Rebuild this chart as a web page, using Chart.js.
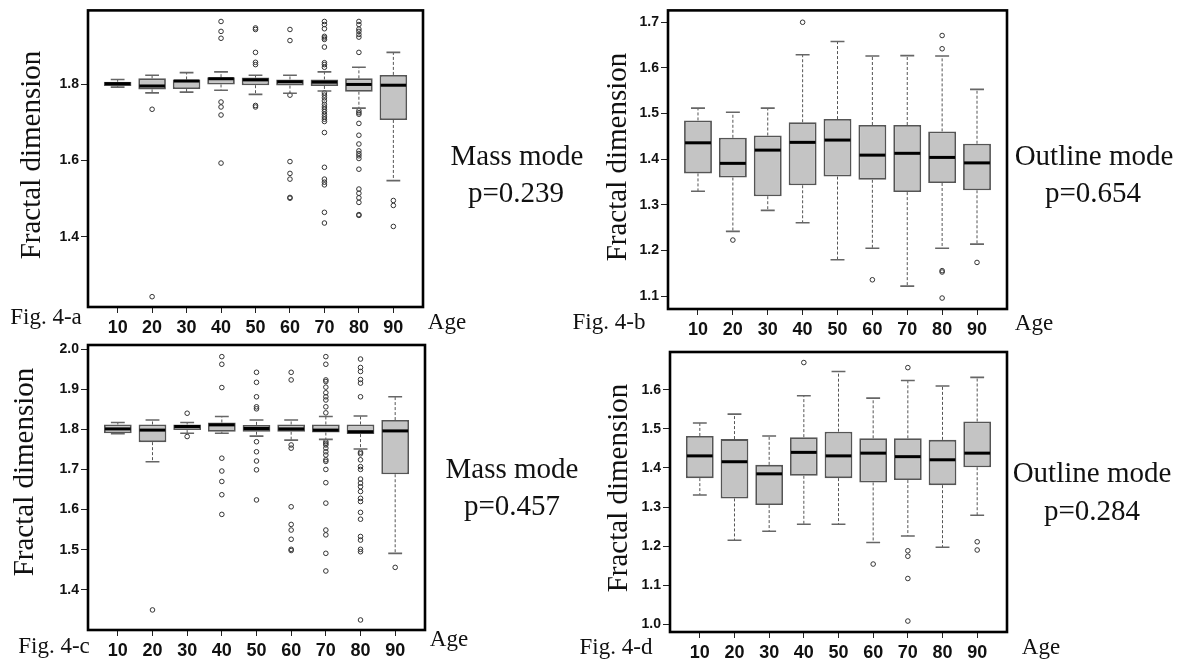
<!DOCTYPE html>
<html>
<head>
<meta charset="utf-8">
<script src="https://cdn.jsdelivr.net/npm/chart.js@4"></script>
<style>
  body { margin: 0; background: #fff; }
  #page { position: relative; width: 1182px; height: 662px; overflow: hidden; }
  canvas { position: absolute; left: 0; top: 0; }
  .t {
    position: absolute; font-family: 'Liberation Serif', 'Times New Roman', serif;
    color: #111; white-space: nowrap; line-height: 1; transform: translate(-50%, -50%);
  }
  .r { transform: translate(-50%, -50%) rotate(-90deg); }
</style>
</head>
<body>
<div id="page">
  <canvas id="figA" width="1182" height="662"></canvas>
  <canvas id="figB" width="1182" height="662"></canvas>
  <canvas id="figC" width="1182" height="662"></canvas>
  <canvas id="figD" width="1182" height="662"></canvas>

  <div class="t r" style="left:30px;top:155px;font-size:29px">Fractal dimension</div>
  <div class="t r" style="left:616px;top:157px;font-size:29px">Fractal dimension</div>
  <div class="t r" style="left:23px;top:472px;font-size:29px">Fractal dimension</div>
  <div class="t r" style="left:617px;top:488px;font-size:29px">Fractal dimension</div>

  <div class="t" style="left:46px;top:316px;font-size:23px">Fig. 4-a</div>
  <div class="t" style="left:609px;top:321px;font-size:23px">Fig. 4-b</div>
  <div class="t" style="left:54px;top:645px;font-size:23px">Fig. 4-c</div>
  <div class="t" style="left:616px;top:646px;font-size:23px">Fig. 4-d</div>

  <div class="t" style="left:447px;top:321px;font-size:23px">Age</div>
  <div class="t" style="left:1034px;top:322px;font-size:23px">Age</div>
  <div class="t" style="left:449px;top:638px;font-size:23px">Age</div>
  <div class="t" style="left:1041px;top:646px;font-size:23px">Age</div>

  <div class="t" style="left:517px;top:155px;font-size:29px">Mass mode</div>
  <div class="t" style="left:516px;top:192px;font-size:29px">p=0.239</div>
  <div class="t" style="left:1094px;top:155px;font-size:29px">Outline mode</div>
  <div class="t" style="left:1093px;top:192px;font-size:29px">p=0.654</div>
  <div class="t" style="left:512px;top:468px;font-size:29px">Mass mode</div>
  <div class="t" style="left:512px;top:505px;font-size:29px">p=0.457</div>
  <div class="t" style="left:1092px;top:472px;font-size:29px">Outline mode</div>
  <div class="t" style="left:1092px;top:510px;font-size:29px">p=0.284</div>
</div>
<script>
const ages = ['10', '20', '30', '40', '50', '60', '70', '80', '90']

// Fig. 4-a  mass mode
const aLow  = [1.792, 1.777, 1.779, 1.784, 1.773, 1.776, 1.782, 1.737, 1.547]
const aQ1   = [1.795, 1.786, 1.787, 1.799, 1.797, 1.796, 1.795, 1.780, 1.706]
const aMed  = [1.801, 1.795, 1.808, 1.814, 1.811, 1.806, 1.805, 1.799, 1.797]
const aQ3   = [1.806, 1.815, 1.812, 1.818, 1.817, 1.812, 1.812, 1.815, 1.824]
const aHigh = [1.812, 1.823, 1.830, 1.832, 1.823, 1.823, 1.832, 1.844, 1.883]
const aOut = [
  [],
  [1.734, 1.243],
  [],
  [1.964, 1.938, 1.920, 1.753, 1.740, 1.719, 1.593],
  [1.947, 1.943, 1.883, 1.857, 1.851, 1.744, 1.740],
  [1.943, 1.914, 1.771, 1.597, 1.566, 1.551, 1.503, 1.501],
  [1.964, 1.956, 1.945, 1.925, 1.921, 1.917, 1.897, 1.856, 1.851, 1.844, 1.777, 1.771,
   1.764, 1.756, 1.747, 1.740, 1.734, 1.728, 1.721, 1.714, 1.708, 1.702, 1.673, 1.582,
   1.551, 1.543, 1.536, 1.464, 1.436],
  [1.964, 1.956, 1.944, 1.938, 1.930, 1.923, 1.883, 1.730, 1.725, 1.721, 1.697, 1.666,
   1.643, 1.625, 1.618, 1.612, 1.605, 1.577, 1.525, 1.514, 1.502, 1.490, 1.458, 1.456],
  [1.495, 1.482, 1.427]
]

// Fig. 4-b  outline mode
const bLow  = [1.330, 1.242, 1.288, 1.261, 1.180, 1.205, 1.122, 1.205, 1.214]
const bQ1   = [1.369, 1.360, 1.319, 1.343, 1.362, 1.355, 1.328, 1.348, 1.332]
const bMed  = [1.436, 1.391, 1.420, 1.437, 1.442, 1.409, 1.413, 1.404, 1.392]
const bQ3   = [1.485, 1.447, 1.452, 1.481, 1.488, 1.475, 1.475, 1.461, 1.434]
const bHigh = [1.512, 1.503, 1.512, 1.629, 1.658, 1.626, 1.627, 1.626, 1.553]
const bOut = [[], [1.223], [], [1.700], [], [1.136], [], [1.671, 1.642, 1.156, 1.153, 1.096], [1.174]]

// Fig. 4-c  mass mode
const cLow  = [1.789, 1.719, 1.790, 1.790, 1.783, 1.773, 1.775, 1.751, 1.491]
const cQ1   = [1.790, 1.768, 1.798, 1.794, 1.794, 1.794, 1.792, 1.788, 1.688]
const cMed  = [1.801, 1.798, 1.807, 1.811, 1.802, 1.801, 1.798, 1.794, 1.796]
const cQ3   = [1.812, 1.812, 1.812, 1.817, 1.811, 1.812, 1.812, 1.812, 1.823]
const cHigh = [1.817, 1.823, 1.817, 1.832, 1.823, 1.823, 1.832, 1.833, 1.881]
const cOut = [
  [],
  [1.350],
  [1.840, 1.782],
  [1.981, 1.962, 1.904, 1.728, 1.696, 1.670, 1.637, 1.588],
  [1.942, 1.917, 1.881, 1.856, 1.851, 1.769, 1.744, 1.721, 1.699, 1.624],
  [1.942, 1.923, 1.761, 1.753, 1.607, 1.563, 1.549, 1.526, 1.501, 1.498],
  [1.981, 1.962, 1.923, 1.919, 1.905, 1.891, 1.881, 1.873, 1.856, 1.841, 1.769, 1.765,
   1.761, 1.753, 1.744, 1.736, 1.724, 1.720, 1.700, 1.667, 1.616, 1.549, 1.537, 1.491, 1.447],
  [1.975, 1.954, 1.944, 1.924, 1.915, 1.881, 1.743, 1.739, 1.724, 1.707, 1.700, 1.676,
   1.666, 1.657, 1.645, 1.628, 1.620, 1.593, 1.576, 1.533, 1.524, 1.501, 1.495, 1.325],
  [1.456]
]

// Fig. 4-d  outline mode
const dLow  = [1.331, 1.215, 1.238, 1.256, 1.256, 1.209, 1.226, 1.197, 1.279]
const dQ1   = [1.374, 1.322, 1.305, 1.380, 1.374, 1.363, 1.369, 1.356, 1.402]
const dMed  = [1.431, 1.416, 1.385, 1.440, 1.431, 1.438, 1.429, 1.421, 1.438]
const dQ3   = [1.482, 1.474, 1.408, 1.479, 1.493, 1.476, 1.476, 1.472, 1.519]
const dHigh = [1.515, 1.538, 1.482, 1.585, 1.647, 1.579, 1.624, 1.610, 1.632]
const dOut = [[], [], [], [1.670], [], [1.154], [1.657, 1.188, 1.174, 1.117, 1.008], [], [1.211, 1.190]]

const yTicksA = [1.4, 1.6, 1.8]
const yTicksB = [1.1, 1.2, 1.3, 1.4, 1.5, 1.6, 1.7]
const yTicksC = [1.4, 1.5, 1.6, 1.7, 1.8, 1.9, 2.0]
const yTicksD = [1.0, 1.1, 1.2, 1.3, 1.4, 1.5, 1.6]

const Y_W = 50
const X_H = 28
const sans = "'Liberation Sans', Arial, sans-serif"

// whiskers, caps, medians and the heavy frame, all placed with the chart scales
function boxExtras(low, med, high, q1, q3) {
  return {
    id: 'boxExtras',
    afterDatasetsDraw(chart) {
      const { ctx, chartArea, scales: { x, y } } = chart
      const bars = chart.getDatasetMeta(0).data
      ctx.save()
      low.forEach((lo, i) => {
        const px = x.getPixelForValue(i + 1)
        const half = bars[i].width / 2
        const cap = half / 2
        // dashed whiskers
        ctx.strokeStyle = '#555'
        ctx.lineWidth = 1
        ctx.setLineDash([3, 2])
        ctx.beginPath()
        ctx.moveTo(px, y.getPixelForValue(q3[i]))
        ctx.lineTo(px, y.getPixelForValue(high[i]))
        ctx.moveTo(px, y.getPixelForValue(q1[i]))
        ctx.lineTo(px, y.getPixelForValue(lo))
        ctx.stroke()
        // caps
        ctx.setLineDash([])
        ctx.strokeStyle = '#666'
        ctx.lineWidth = 1.6
        ctx.beginPath()
        ctx.moveTo(px - cap, y.getPixelForValue(high[i]))
        ctx.lineTo(px + cap, y.getPixelForValue(high[i]))
        ctx.moveTo(px - cap, y.getPixelForValue(lo))
        ctx.lineTo(px + cap, y.getPixelForValue(lo))
        ctx.stroke()
        // median
        ctx.strokeStyle = '#000'
        ctx.lineWidth = 3
        ctx.beginPath()
        ctx.moveTo(px - half + 1, y.getPixelForValue(med[i]))
        ctx.lineTo(px + half - 1, y.getPixelForValue(med[i]))
        ctx.stroke()
      })
      ctx.strokeStyle = '#000'
      ctx.lineWidth = 2.6
      ctx.strokeRect(chartArea.left, chartArea.top, chartArea.width, chartArea.height)
      ctx.restore()
    }
  }
}

function makePanel(id, frame, yMin, yMax, yTicks, low, q1, med, q3, high, outliers) {
  const ctx = document.getElementById(id).getContext('2d')
  const boxes = q1.map((v, i) => ({ x: i + 1, y: [v, q3[i]] }))
  const points = []
  outliers.forEach((list, i) => list.forEach(v => points.push({ x: i + 1, y: v })))

  return new Chart(ctx, {
    type: 'bar',
    data: {
      datasets: [
        {
          type: 'bar',
          data: boxes,
          backgroundColor: '#c4c4c4',
          borderColor: '#555',
          borderWidth: 1.8,
          borderSkipped: false,
          barPercentage: 0.8,
          categoryPercentage: 1
        },
        {
          type: 'scatter',
          data: points,
          pointRadius: 2.3,
          pointBorderWidth: 1,
          pointBorderColor: '#333',
          pointBackgroundColor: 'rgba(0,0,0,0)'
        }
      ]
    },
    options: {
      responsive: false,
      animation: false,
      events: [],
      layout: {
        padding: { left: frame.l - Y_W, top: frame.t, right: 1182 - frame.r, bottom: 662 - frame.b - X_H }
      },
      plugins: { legend: { display: false }, tooltip: { enabled: false } },
      scales: {
        x: {
          type: 'linear',
          min: 0.14,
          max: 9.86,
          offset: false,
          afterBuildTicks: axis => { axis.ticks = ages.map((a, i) => ({ value: i + 1 })) },
          afterFit: axis => { axis.height = X_H },
          ticks: {
            callback: v => ages[v - 1],
            autoSkip: false,
            maxRotation: 0,
            padding: 4,
            color: '#111',
            font: { family: sans, size: 18, weight: 'bold' }
          },
          grid: { offset: false, drawOnChartArea: false, tickLength: 6, color: '#222' },
          border: { display: false }
        },
        y: {
          min: yMin,
          max: yMax,
          afterBuildTicks: axis => { axis.ticks = yTicks.map(v => ({ value: v })) },
          afterFit: axis => { axis.width = Y_W },
          ticks: {
            callback: v => v.toFixed(1),
            padding: 2,
            color: '#111',
            font: { family: sans, size: 14, weight: 'bold' }
          },
          grid: { drawOnChartArea: false, tickLength: 7, color: '#222' },
          border: { display: false }
        }
      }
    },
    plugins: [boxExtras(low, med, high, q1, q3)]
  })
}

makePanel('figA', { l: 88, t: 9, r: 423, b: 307 }, 1.216, 1.993, yTicksA, aLow, aQ1, aMed, aQ3, aHigh, aOut)
makePanel('figB', { l: 668, t: 7, r: 1007, b: 309 }, 1.072, 1.726, yTicksB, bLow, bQ1, bMed, bQ3, bHigh, bOut)
makePanel('figC', { l: 88, t: 345, r: 425, b: 630 }, 1.300, 2.010, yTicksC, cLow, cQ1, cMed, cQ3, cHigh, cOut)
makePanel('figD', { l: 670, t: 352, r: 1007, b: 632 }, 0.980, 1.697, yTicksD, dLow, dQ1, dMed, dQ3, dHigh, dOut)
</script>
</body>
</html>
